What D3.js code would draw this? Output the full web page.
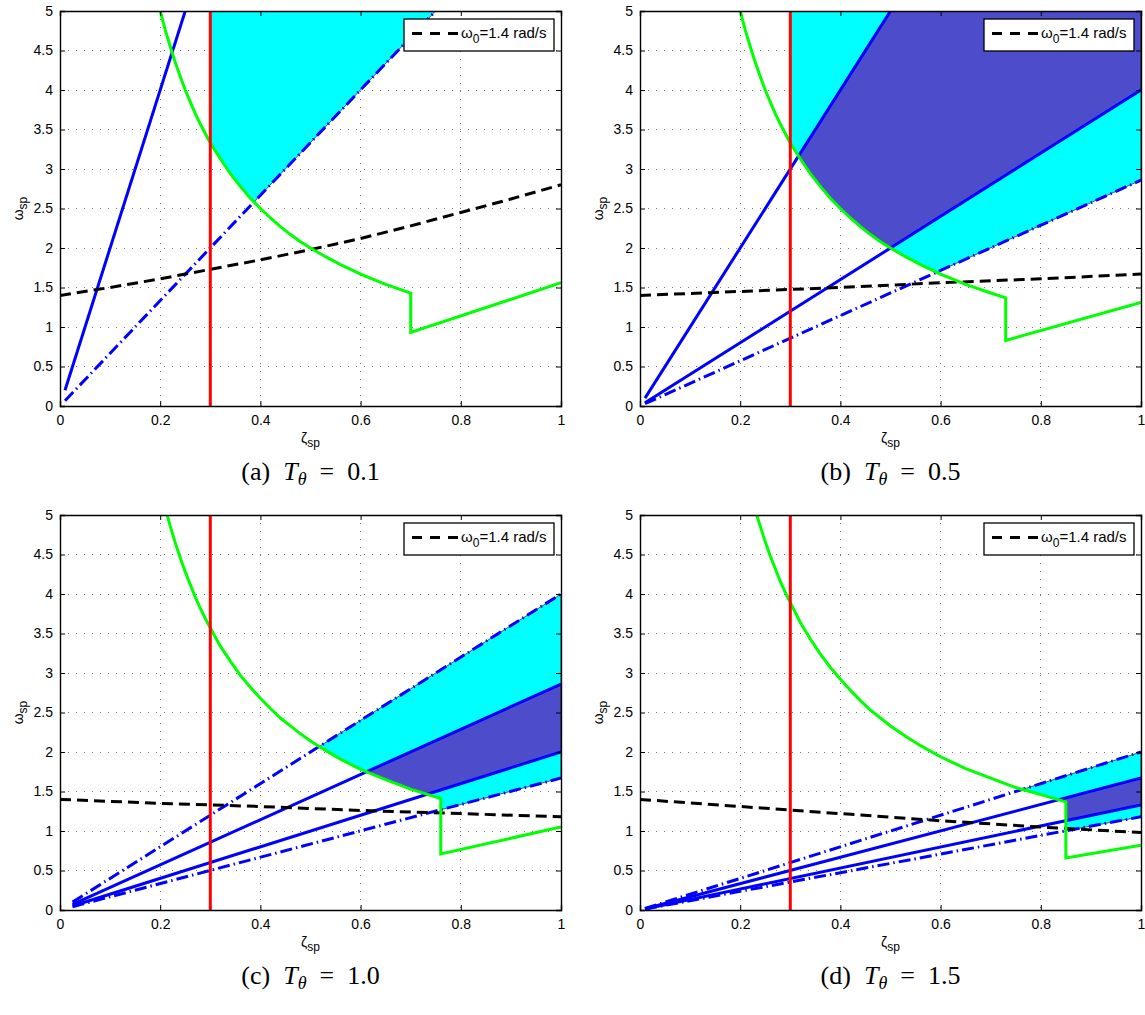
<!DOCTYPE html>
<html>
<head>
<meta charset="utf-8">
<script src="https://cdn.jsdelivr.net/npm/d3@7"></script>
<style>
  html, body { margin: 0; padding: 0; background: #fff; }
  svg { display: block; }
  text { font-family: "Liberation Sans", Arial, Helvetica, sans-serif; }
  .cap { font-family: "Liberation Serif", "DejaVu Serif", serif; }
</style>
</head>
<body>
<svg id="chart" width="1145" height="1015"></svg>
<script>
// ---------------- data ----------------
const xTicks = [0, 0.2, 0.4, 0.6, 0.8, 1];
const xTickLabels = ["0", "0.2", "0.4", "0.6", "0.8", "1"];
const yTicks = [0, 0.5, 1, 1.5, 2, 2.5, 3, 3.5, 4, 4.5, 5];
const yTickLabels = ["0", "0.5", "1", "1.5", "2", "2.5", "3", "3.5", "4", "4.5", "5"];
const panelLetters = ["(a)", "(b)", "(c)", "(d)"];
const tThetaValues = ["0.1", "0.5", "1.0", "1.5"];
const legendLabel = "=1.4 rad/s";
const zetaMin = 0.3; // red vertical line

// green boundary curves [zeta, omega]
const greenA = [[0.2,5.0],[0.21,4.76],[0.22,4.55],[0.23,4.35],[0.24,4.17],[0.25,4.0],[0.26,3.85],[0.27,3.70],[0.28,3.57],[0.29,3.45],[0.30,3.33],[0.32,3.13],[0.34,2.94],[0.36,2.78],[0.38,2.63],[0.40,2.50],[0.42,2.38],[0.44,2.27],[0.46,2.17],[0.48,2.08],[0.50,2.00],[0.53,1.89],[0.56,1.79],[0.60,1.67],[0.65,1.54],[0.70,1.43],[0.70,0.93],[1.0,1.56]];
const greenB = [[0.2,5.0],[0.21,4.76],[0.22,4.55],[0.23,4.35],[0.24,4.17],[0.25,4.0],[0.26,3.85],[0.27,3.70],[0.28,3.57],[0.29,3.45],[0.30,3.33],[0.32,3.13],[0.34,2.94],[0.36,2.78],[0.38,2.63],[0.40,2.50],[0.42,2.38],[0.44,2.27],[0.46,2.17],[0.48,2.08],[0.50,2.00],[0.53,1.89],[0.56,1.79],[0.60,1.67],[0.65,1.54],[0.70,1.43],[0.73,1.37],[0.73,0.83],[1.0,1.31]];
const greenC = [[0.214,5.0],[0.22,4.86],[0.23,4.65],[0.24,4.46],[0.25,4.28],[0.26,4.12],[0.27,3.96],[0.28,3.82],[0.29,3.69],[0.30,3.57],[0.32,3.34],[0.34,3.15],[0.36,2.97],[0.38,2.82],[0.40,2.68],[0.42,2.55],[0.44,2.43],[0.46,2.33],[0.48,2.23],[0.50,2.14],[0.53,2.02],[0.56,1.91],[0.60,1.78],[0.65,1.65],[0.70,1.53],[0.76,1.41],[0.76,0.71],[1.0,1.05]];
const greenD = [[0.233,5.0],[0.24,4.86],[0.25,4.66],[0.26,4.48],[0.27,4.32],[0.28,4.16],[0.29,4.02],[0.30,3.89],[0.32,3.64],[0.34,3.43],[0.36,3.24],[0.38,3.07],[0.40,2.92],[0.42,2.78],[0.44,2.65],[0.46,2.53],[0.48,2.43],[0.50,2.33],[0.53,2.20],[0.56,2.08],[0.60,1.94],[0.65,1.79],[0.70,1.67],[0.75,1.55],[0.80,1.46],[0.85,1.37],[0.85,0.66],[1.0,0.82]];

// black dashed omega_0 = 1.4 rad/s lines
const blackA = [[0,1.40],[0.1,1.50],[0.2,1.61],[0.3,1.73],[0.4,1.85],[0.5,1.98],[0.6,2.12],[0.7,2.28],[0.8,2.45],[0.9,2.62],[1.0,2.80]];
const blackB = [[0,1.40],[0.2,1.45],[0.4,1.50],[0.6,1.56],[0.8,1.61],[1.0,1.67]];
const blackC = [[0,1.40],[0.2,1.35],[0.4,1.31],[0.6,1.26],[0.8,1.22],[1.0,1.18]];
const blackD = [[0,1.40],[0.2,1.31],[0.4,1.22],[0.6,1.13],[0.8,1.05],[1.0,0.98]];

// blue solid lines (upper / lower)
const solidUpperA = null;
const solidLowerA = [[0.01,0.20],[1.0,20.0]];
const solidUpperB = [[0.01,0.10],[1.0,10.0]];
const solidLowerB = [[0.01,0.04],[1.0,4.0]];
const solidUpperC = [[0.025,0.071],[1.0,2.86]];
const solidLowerC = [[0.025,0.05],[1.0,2.0]];
const solidUpperD = [[0.01,0.017],[1.0,1.67]];
const solidLowerD = [[0.01,0.013],[1.0,1.33]];

// blue dash-dot lines (upper / lower)
const dashUpperA = null;
const dashLowerA = [[0.01,0.067],[1.0,6.67]];
const dashUpperB = null;
const dashLowerB = [[0.01,0.029],[1.0,2.86]];
const dashUpperC = [[0.025,0.10],[1.0,4.0]];
const dashLowerC = [[0.025,0.042],[1.0,1.67]];
const dashUpperD = [[0.01,0.02],[1.0,2.0]];
const dashLowerD = [[0.01,0.012],[1.0,1.18]];

// ---------------- layout ----------------
const W = 501, H = 395;
const panels = [
  {left: 60,  top: 11,  green: greenA, black: blackA, sU: solidUpperA, sL: solidLowerA, dU: dashUpperA, dL: dashLowerA},
  {left: 640, top: 11,  green: greenB, black: blackB, sU: solidUpperB, sL: solidLowerB, dU: dashUpperB, dL: dashLowerB},
  {left: 60,  top: 515, green: greenC, black: blackC, sU: solidUpperC, sL: solidLowerC, dU: dashUpperC, dL: dashLowerC},
  {left: 640, top: 515, green: greenD, black: blackD, sU: solidUpperD, sL: solidLowerD, dU: dashUpperD, dL: dashLowerD}
];

const svg = d3.select("#chart");
svg.append("rect").attr("width", 1145).attr("height", 1015).attr("fill", "#fff");
const defs = svg.append("defs");

const x = d3.scaleLinear().domain([0, 1]).range([0, W]);
const y = d3.scaleLinear().domain([0, 5]).range([H, 0]);
const line = d3.line().x(d => x(d[0])).y(d => y(d[1]));

const CYAN = "#00ffff", DARK = "#4d4dcc", BLUE = "#0000ff", GREEN = "#00ff00", RED = "#ff0000";
const LW = 3;

function polygon(lower, upper) {
  const top = y.domain()[1];
  const pts = upper
    ? lower.concat(upper.slice().reverse())
    : lower.concat([[lower[lower.length - 1][0], top], [lower[0][0], top]]);
  return line(pts) + "Z";
}

panels.forEach((p, i) => {
  const g = svg.append("g").attr("transform", `translate(${p.left},${p.top})`);

  // clip paths
  defs.append("clipPath").attr("id", "plot" + i)
    .append("rect").attr("x", 0).attr("y", 0).attr("width", W).attr("height", H);
  defs.append("clipPath").attr("id", "right" + i)
    .append("rect").attr("x", x(zetaMin)).attr("y", 0).attr("width", W - x(zetaMin)).attr("height", H);
  const greenArea = d3.area().x(d => x(d[0])).y0(d => y(d[1])).y1(y(5.5));
  defs.append("clipPath").attr("id", "above" + i)
    .append("path").attr("d", greenArea(p.green));

  // grid
  const grid = g.append("g");
  grid.selectAll(".gx").data(xTicks.slice(1, -1)).join("line")
    .attr("x1", d => x(d)).attr("x2", d => x(d)).attr("y1", 0).attr("y2", H);
  grid.selectAll(".gy").data(yTicks.slice(1, -1)).join("line")
    .attr("y1", d => y(d)).attr("y2", d => y(d)).attr("x1", 0).attr("x2", W);
  grid.selectAll("line").attr("stroke", "#777").attr("stroke-width", 1)
    .attr("stroke-dasharray", "1,7").attr("shape-rendering", "crispEdges");

  // filled regions
  const fillG = g.append("g").attr("clip-path", `url(#right${i})`)
    .append("g").attr("clip-path", `url(#above${i})`);
  fillG.append("path").attr("d", polygon(p.dL, p.dU))
    .attr("fill", CYAN).attr("stroke", "#000").attr("stroke-width", 0.6);
  if (p.sU) {
    fillG.append("path").attr("d", polygon(p.sL, p.sU))
      .attr("fill", DARK).attr("stroke", "#000").attr("stroke-width", 0.6);
  }

  // lines
  const lines = g.append("g").attr("clip-path", `url(#plot${i})`);
  [p.dU, p.dL].filter(Boolean).forEach(d => {
    lines.append("path").attr("d", line(d)).attr("fill", "none")
      .attr("stroke", BLUE).attr("stroke-width", LW).attr("stroke-dasharray", "12,4,1.5,4");
  });
  [p.sU, p.sL].filter(Boolean).forEach(d => {
    lines.append("path").attr("d", line(d)).attr("fill", "none")
      .attr("stroke", BLUE).attr("stroke-width", LW);
  });
  lines.append("path").attr("d", line(p.black)).attr("fill", "none")
    .attr("stroke", "#000").attr("stroke-width", LW).attr("stroke-dasharray", "11,6");
  lines.append("path").attr("d", line(p.green)).attr("fill", "none")
    .attr("stroke", GREEN).attr("stroke-width", LW).attr("stroke-linejoin", "miter");
  lines.append("line").attr("x1", x(zetaMin)).attr("x2", x(zetaMin)).attr("y1", 0).attr("y2", H)
    .attr("stroke", RED).attr("stroke-width", LW);

  // axes
  const axB = g.append("g").attr("transform", `translate(0,${H})`)
    .call(d3.axisBottom(x).tickValues(xTicks).tickFormat((d, k) => xTickLabels[k]).tickSize(-5).tickPadding(9));
  const axT = g.append("g")
    .call(d3.axisTop(x).tickValues(xTicks).tickFormat("").tickSize(-5));
  const axL = g.append("g")
    .call(d3.axisLeft(y).tickValues(yTicks).tickFormat((d, k) => yTickLabels[k]).tickSize(-5).tickPadding(7));
  const axR = g.append("g").attr("transform", `translate(${W},0)`)
    .call(d3.axisRight(y).tickValues(yTicks).tickFormat("").tickSize(-5));
  [axB, axT, axL, axR].forEach(a => {
    a.select(".domain").attr("stroke", "#000").attr("stroke-width", 1.4);
    a.selectAll(".tick line").attr("stroke", "#000").attr("stroke-width", 1);
    a.selectAll("text").attr("font-size", 14).attr("fill", "#000")
      .attr("font-family", '"Liberation Sans", Arial, sans-serif');
  });

  // axis labels
  const xl = g.append("text").attr("x", W / 2).attr("y", H + 37)
    .attr("text-anchor", "middle").attr("font-size", 14);
  xl.append("tspan").text("ζ");
  xl.append("tspan").attr("font-size", 12).attr("dy", 4).text("sp");

  const yl = g.append("text").attr("transform", `translate(-37,${H / 2}) rotate(-90)`)
    .attr("text-anchor", "middle").attr("font-size", 14);
  yl.append("tspan").text("ω");
  yl.append("tspan").attr("font-size", 12).attr("dy", 4).text("sp");

  // legend
  const lg = g.append("g").attr("transform", `translate(${W - 157},8)`);
  lg.append("rect").attr("width", 150).attr("height", 32)
    .attr("fill", "#fff").attr("stroke", "#000").attr("stroke-width", 1.3);
  lg.append("line").attr("x1", 8).attr("x2", 54).attr("y1", 14.5).attr("y2", 14.5)
    .attr("stroke", "#000").attr("stroke-width", LW).attr("stroke-dasharray", "10,8");
  const lt = lg.append("text").attr("x", 57).attr("y", 19).attr("font-size", 15);
  lt.append("tspan").text("ω");
  lt.append("tspan").attr("font-size", 12).attr("dy", 5).text("0");
  lt.append("tspan").attr("dy", -5).text(legendLabel);

  // caption
  const cap = g.append("text").attr("class", "cap").attr("x", W / 2).attr("y", H + 74)
    .attr("text-anchor", "middle").attr("font-size", 26);
  cap.append("tspan").text(panelLetters[i] + "\u2002");
  cap.append("tspan").attr("font-style", "italic").text("T");
  cap.append("tspan").attr("font-style", "italic").attr("font-size", 18).attr("dy", 5).text("θ");
  cap.append("tspan").attr("dy", -5).text("\u2002=\u2002" + tThetaValues[i]);
});
</script>
</body>
</html>
